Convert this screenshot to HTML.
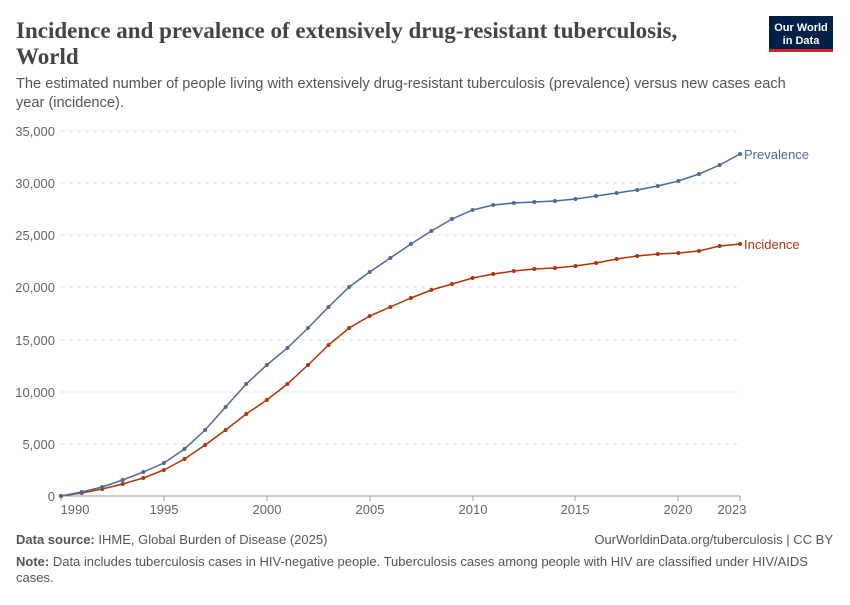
<!DOCTYPE html>
<html><head><meta charset="utf-8"><style>
body{margin:0;width:850px;height:600px;background:#fff;font-family:"Liberation Sans",sans-serif;overflow:hidden}
</style></head><body>
<svg width="850" height="600" xmlns="http://www.w3.org/2000/svg" font-family="Liberation Sans, sans-serif">
<text x="16" y="38" font-family="Liberation Serif, serif" font-size="23" font-weight="bold" fill="#444">Incidence and prevalence of extensively drug-resistant tuberculosis,</text>
<text x="16" y="64" font-family="Liberation Serif, serif" font-size="23" font-weight="bold" fill="#444">World</text>
<rect x="769" y="16" width="64" height="36" fill="#002147"/>
<rect x="769" y="49" width="64" height="3" fill="#ce261e"/>
<text x="801" y="31" font-size="11" fill="#fff" text-anchor="middle" font-weight="bold">Our World</text>
<text x="801" y="44" font-size="11" fill="#fff" text-anchor="middle" font-weight="bold">in Data</text>
<text x="16" y="88" font-size="14.6" fill="#555">The estimated number of people living with extensively drug-resistant tuberculosis (prevalence) versus new cases each</text>
<text x="16" y="107" font-size="14.6" fill="#555">year (incidence).</text>
<g stroke="#ddd" stroke-dasharray="4,4">
<line x1="61" x2="740" y1="131" y2="131"/><line x1="61" x2="740" y1="183" y2="183"/><line x1="61" x2="740" y1="235" y2="235"/><line x1="61" x2="740" y1="287" y2="287"/><line x1="61" x2="740" y1="340" y2="340"/><line x1="61" x2="740" y1="392" y2="392"/><line x1="61" x2="740" y1="444" y2="444"/>
</g>
<line x1="61" x2="740" y1="496" y2="496" stroke="#999"/>
<g font-size="13" fill="#666" text-anchor="end">
<text x="55" y="136">35,000</text><text x="55" y="188">30,000</text><text x="55" y="240">25,000</text><text x="55" y="292">20,000</text><text x="55" y="345">15,000</text><text x="55" y="397">10,000</text><text x="55" y="449">5,000</text><text x="55" y="501">0</text>
</g>
<g font-size="13" fill="#666" text-anchor="middle">
<text x="75" y="514">1990</text><text x="164" y="514">1995</text><text x="267" y="514">2000</text><text x="370" y="514">2005</text><text x="473" y="514">2010</text><text x="575" y="514">2015</text><text x="678" y="514">2020</text><text x="732" y="514">2023</text>
</g>
<g stroke="#999"><line x1="164" x2="164" y1="496" y2="501"/><line x1="267" x2="267" y1="496" y2="501"/><line x1="370" x2="370" y1="496" y2="501"/><line x1="473" x2="473" y1="496" y2="501"/><line x1="575" x2="575" y1="496" y2="501"/><line x1="678" x2="678" y1="496" y2="501"/><line x1="740" x2="740" y1="496" y2="501"/><line x1="61" x2="61" y1="496" y2="501"/></g>
<g id="pts"></g>
<text x="744" y="159" font-size="13" fill="#4c6a9c">Prevalence</text>
<text x="744" y="249" font-size="13" fill="#b13507">Incidence</text>
<text x="16" y="544" font-size="13" fill="#555"><tspan font-weight="bold">Data source:</tspan> IHME, Global Burden of Disease (2025)</text>
<text x="833" y="544" font-size="13" fill="#555" text-anchor="end">OurWorldinData.org/tuberculosis | CC BY</text>
<text x="16" y="566" font-size="13" fill="#555"><tspan font-weight="bold">Note:</tspan> Data includes tuberculosis cases in HIV-negative people. Tuberculosis cases among people with HIV are classified under HIV/AIDS</text>
<text x="16" y="582" font-size="13" fill="#555">cases.</text>
</svg>
<script>
var P=[496,492,487,480,472,463,449,430,407,384,365,348,328,307,287,272,258,244,231,219,210,205,203,202,201,199,196,193,190,186,181,174,165,154];
var I=[496,493,489,484,478,470,459,445,430,414,400,384,365,345,328,316,307,298,290,284,278,274,271,269,268,266,263,259,256,254,253,251,246,244];
var g=document.getElementById('pts'),s='';
function draw(a,c){var pts=a.map(function(y,i){return (61+i*20.58).toFixed(1)+','+y}).join(' ');
s+='<polyline points="'+pts+'" fill="none" stroke="'+c+'" stroke-width="1.5"/>';
a.forEach(function(y,i){s+='<circle cx="'+(61+i*20.58).toFixed(1)+'" cy="'+y+'" r="2" fill="'+c+'"/>';});}
draw(I,'#b13507');draw(P,'#4c6a9c');g.innerHTML=s;
</script>
</body></html>
